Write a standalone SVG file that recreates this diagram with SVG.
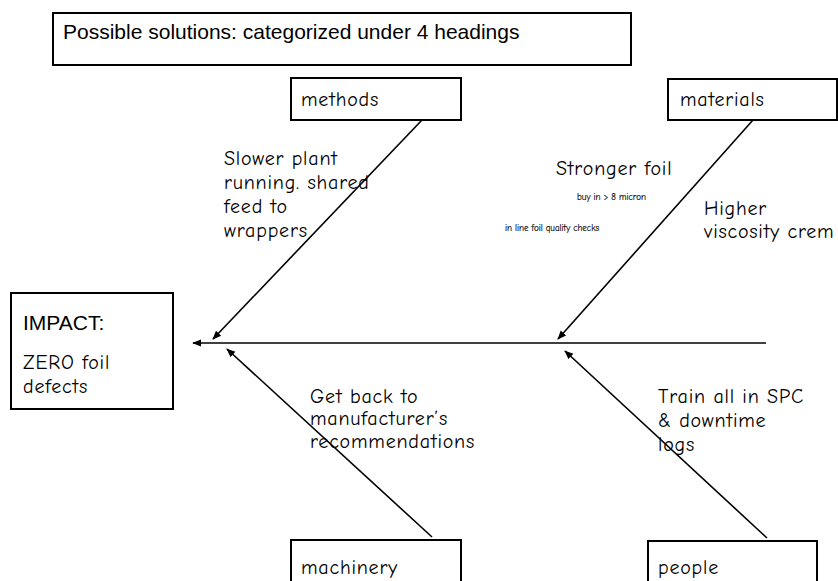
<svg xmlns="http://www.w3.org/2000/svg" width="838" height="581" viewBox="0 0 838 581">
<style>
.box{fill:#fff;stroke:#000;stroke-width:2}
.ln{stroke:#000;stroke-width:1.6;fill:none;marker-end:url(#ah)}
.c{font-family:"Comic Neue","DejaVu Sans","Noto Sans",sans-serif;font-size:20px;letter-spacing:0.8px;fill:#000}
.s{font-family:"Comic Neue","DejaVu Sans","Noto Sans",sans-serif;font-size:9px;fill:#000;stroke:#000;stroke-width:0.15}
.a{font-family:"Liberation Sans",Arial,sans-serif;font-size:21px;fill:#000}
</style>
<defs>
<marker id="ah" viewBox="0 0 10 10" refX="9" refY="5" markerWidth="9" markerHeight="9" markerUnits="userSpaceOnUse" orient="auto">
<path d="M0,1 L10,5 L0,9 Z" fill="#000"/>
</marker>
</defs>
<rect width="838" height="581" fill="#fff"/>
<g id="title"><rect class="box" x="53" y="13" width="578" height="52"/><text class="a" x="63" y="39">Possible solutions: categorized under 4 headings</text></g>
<g id="connectors">
<line class="ln" x1="766" y1="343" x2="193" y2="343"/>
<line class="ln" x1="422" y1="120" x2="213" y2="339"/>
<line class="ln" x1="753" y1="120" x2="558" y2="339"/>
<line class="ln" x1="432" y1="537" x2="227" y2="349"/>
<line class="ln" x1="767" y1="538" x2="565" y2="351"/>
</g>
<g id="impact"><rect class="box" x="11" y="293" width="162" height="116"/><text class="a" x="23" y="330">IMPACT:</text><text class="c" x="23" y="369">ZERO foil</text><text class="c" x="23" y="393">defects</text></g>
<g id="methods"><rect class="box" x="291" y="78" width="170" height="42"/><text class="c" x="301" y="106">methods</text></g>
<g id="materials"><rect class="box" x="668" y="79" width="169" height="41"/><text class="c" x="680" y="106">materials</text></g>
<g id="machinery"><rect class="box" x="291" y="540" width="170" height="50"/><text class="c" x="301" y="574">machinery</text></g>
<g id="people"><rect class="box" x="648" y="541" width="169" height="50"/><text class="c" x="658" y="574">people</text></g>
<g id="notes">
<text class="c" x="224" y="165">Slower plant</text>
<text class="c" x="224" y="189">running. shared</text>
<text class="c" x="224" y="213">feed to</text>
<text class="c" x="224" y="237">wrappers</text>
<text class="c" x="556" y="175">Stronger foil</text>
<text class="s" x="577" y="200">buy in &gt; 8 micron</text>
<text class="s" x="505" y="231">in line foil quality checks</text>
<text class="c" x="704" y="215">Higher</text>
<text class="c" x="704" y="238">viscosity crem</text>
<text class="c" x="310" y="403">Get back to</text>
<text class="c" x="310" y="425">manufacturer’s</text>
<text class="c" x="310" y="448">recommendations</text>
<text class="c" x="658" y="403">Train all in SPC</text>
<text class="c" x="658" y="427">&amp; downtime</text>
<text class="c" x="658" y="451">logs</text>
</g>
</svg>
